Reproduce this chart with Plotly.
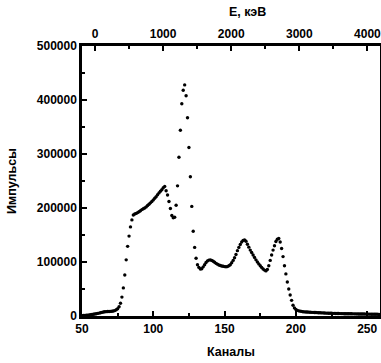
import plotly.graph_objects as go

channels = list(range(50, 260))
counts = [
    # 50-59
    500, 800, 1000, 1300, 1700, 2000, 2400, 2800, 3200, 3700,
    # 60-69
    4200, 4800, 5400, 6000, 6700, 7300, 7800, 8100, 8300, 8400,
    # 70-79
    8500, 8700, 9200, 10000, 11500, 13500, 17000, 23500, 35000, 52000,
    # 80-89
    76000, 104000, 129000, 148000, 165000, 178000, 187000, 189000, 190000, 191500,
    # 90-99
    193000, 195000, 197000, 198500, 200000, 202000, 204500, 207000, 209500, 212000,
    # 100-109
    215000, 218000, 221000, 224500, 228000, 231000, 234000, 237500, 240000, 232000,
    # 110-119
    224000, 212000, 199000, 186000, 182000, 183000, 205000, 241000, 294000, 344000,
    # 120-129
    393000, 418000, 428000, 408000, 367000, 312000, 258000, 203000, 157000, 127000,
    # 130-139
    107000, 95000, 90000, 87000, 87500, 91000, 95000, 99000, 102000, 103500,
    # 140-149
    104000, 103000, 101500, 99500, 97500, 96000, 94500, 93500, 92500, 92000,
    # 150-159
    91500, 91300, 91500, 93000, 95000, 98500, 103000, 108000, 114000, 121000,
    # 160-169
    127000, 132500, 137000, 140000, 141000, 138500, 133000, 127500, 122000, 117500,
    # 170-179
    113000, 108500, 104000, 100000, 96500, 93000, 90000, 87000, 85000, 83500,
    # 180-189
    86000, 93000, 103000, 113000, 122000, 130000, 138000, 142000, 143500, 137000,
    # 190-199
    125000, 110000, 93000, 78000, 63000, 50000, 39000, 29000, 20000, 15000,
    # 200-209
    12000, 10500, 9500, 9000, 8500, 8000, 7700, 7500, 7300, 7100,
    # 210-219
    7000, 6800, 6700, 6500, 6400, 6200, 6100, 6000, 5800, 5700,
    # 220-229
    5500, 5400, 5300, 5200, 5100, 5000, 4900, 4800, 4700, 4600,
    # 230-239
    4500, 4450, 4400, 4350, 4300, 4250, 4200, 4150, 4100, 4050,
    # 240-249
    4000, 3950, 3900, 3850, 3800, 3750, 3700, 3650, 3600, 3550,
    # 250-259
    3500, 3450, 3400, 3350, 3300, 3250, 3200, 3150, 3100, 3050,
]

x_ticks = [50, 100, 150, 200, 250]
y_ticks = [0, 100000, 200000, 300000, 400000, 500000]
e_ticks = [0, 1000, 2000, 3000, 4000]

font_main = "Liberation Sans, Arial, sans-serif"
title_font = dict(family=font_main, size=12.5, color="black")

fig = go.Figure()
fig.add_trace(go.Scatter(
    x=channels, y=counts, mode="markers",
    marker=dict(color="black", size=3.4),
    showlegend=False, hoverinfo="skip",
))
fig.add_trace(go.Scatter(x=[], y=[], xaxis="x2", showlegend=False))

axis_common = dict(
    showgrid=False, zeroline=False, showline=True, linecolor="black", linewidth=2.5,
    ticks="inside", tickcolor="black", tickwidth=2, ticklen=5, automargin=False,
    ticklabeloverflow="allow",
    tickfont=dict(family=font_main, size=12, color="black", weight="bold"),
)

fig.update_layout(
    width=381, height=363,
    margin=dict(l=82, r=1, t=46, b=47),
    paper_bgcolor="white", plot_bgcolor="white",
    xaxis=dict(
        range=[50, 259], tickvals=x_ticks, ticktext=[str(v) for v in x_ticks],
        minor=dict(ticks="inside", dtick=25, tick0=50, ticklen=3, tickcolor="black", tickwidth=1.5),
        mirror=False,
        **axis_common,
    ),
    xaxis2=dict(
        overlaying="x", side="top", anchor="y",
        range=[-191, 4185], tickvals=e_ticks, ticktext=[str(v) for v in e_ticks],
        minor=dict(ticks="inside", dtick=500, tick0=0, ticklen=3, tickcolor="black", tickwidth=1.5),
        **axis_common,
    ),
    yaxis=dict(
        range=[0, 500000], tickvals=y_ticks, ticktext=[str(v) for v in y_ticks],
        minor=dict(ticks="inside", dtick=50000, tick0=0, ticklen=3, tickcolor="black", tickwidth=1.5),
        mirror=True,
        **axis_common,
    ),
    annotations=[
        dict(text="<b>E, кэВ</b>", xref="paper", yref="paper", x=0.557, y=1.0, yshift=34,
             showarrow=False, xanchor="center", yanchor="middle", font=title_font),
        dict(text="<b>Каналы</b>", xref="paper", yref="paper", x=0.5, y=0.0, yshift=-36,
             showarrow=False, xanchor="center", yanchor="middle", font=title_font),
        dict(text="<b>Импульсы</b>", xref="paper", yref="paper", x=0.0, y=0.5, xshift=-70,
             textangle=-90, showarrow=False, xanchor="center", yanchor="middle", font=title_font),
    ],
)

fig.write_html(
    "out.html",
    config={"displayModeBar": False},
    post_script="document.body.style.margin='0px';document.body.style.overflow='hidden';",
)
